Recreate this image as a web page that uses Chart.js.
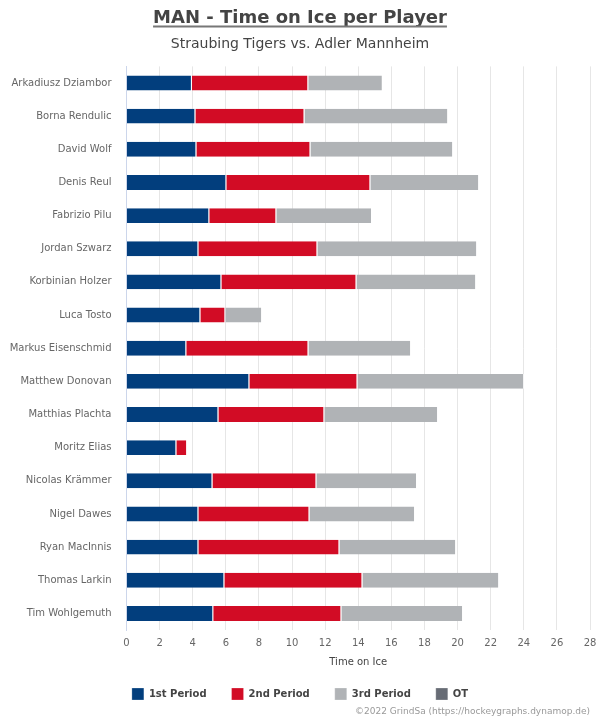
<!DOCTYPE html>
<html>
<head>
<meta charset="utf-8">
<script src="https://cdn.jsdelivr.net/npm/chart.js@4"></script>
<style>
html,body{margin:0;padding:0;background:#fff;}
#wrap{width:600px;height:720px;position:relative;}
</style>
</head>
<body>
<div id="wrap"><canvas id="c" width="600" height="720"></canvas></div>
<script>
const players = ["Arkadiusz Dziambor","Borna Rendulic","David Wolf","Denis Reul","Fabrizio Pilu","Jordan Szwarz","Korbinian Holzer","Luca Tosto","Markus Eisenschmid","Matthew Donovan","Matthias Plachta","Moritz Elias","Nicolas Krämmer","Nigel Dawes","Ryan MacInnis","Thomas Larkin","Tim Wohlgemuth"];
const period1 = [3.95, 4.16, 4.22, 6.03, 5.00, 4.34, 5.73, 4.46, 3.61, 7.42, 5.55, 3.01, 5.19, 4.34, 4.34, 5.91, 5.24];
const period2 = [7.03, 6.59, 6.89, 8.70, 4.05, 7.19, 8.16, 1.51, 7.38, 6.53, 6.40, 0.65, 6.28, 6.71, 8.52, 8.34, 7.74];
const period3 = [4.50, 8.68, 8.62, 6.57, 5.78, 9.65, 7.23, 2.22, 6.20, 10.07, 6.87, 0.00, 6.08, 6.38, 7.05, 8.26, 7.35];
const overtime = [0,0,0,0,0,0,0,0,0,0,0,0,0,0,0,0,0];
const seriesNames = ["1st Period","2nd Period","3rd Period","OT"];
const titleText = "MAN - Time on Ice per Player";
const subtitleText = "Straubing Tigers vs. Adler Mannheim";
const xTitle = "Time on Ice";
const creditText = "©2022 GrindSa (https://hockeygraphs.dynamop.de)";

const colors = ["#023e7d","#d20c25","#b0b3b6","#676c75"];
Chart.defaults.font.family = "'DejaVu Sans', sans-serif";
Chart.defaults.color = "#666";

const extras = {
  id: 'extras',
  afterDraw(chart) {
    const ctx = chart.ctx;
    ctx.save();
    const tb = chart.titleBlock;
    if (tb) {
      ctx.font = "bold 18px 'DejaVu Sans'";
      const w = ctx.measureText(titleText).width;
      const cx = (tb.left + tb.right) / 2;
      const y = tb.bottom - tb.options.padding.bottom - 3;
      ctx.strokeStyle = "#777";
      ctx.lineWidth = 2;
      ctx.beginPath();
      ctx.moveTo(cx - w/2, y);
      ctx.lineTo(cx + w/2, y);
      ctx.stroke();
    }
    ctx.font = "9px 'DejaVu Sans'";
    ctx.fillStyle = "#999";
    ctx.textAlign = "right";
    ctx.textBaseline = "middle";
    ctx.fillText(creditText, 590, 712);
    ctx.restore();
  }
};

const mk = (label, data, i) => ({
  label, data,
  backgroundColor: colors[i],
  borderColor: "#ffffff",
  borderWidth: {top:0, bottom:0, left:0, right:1},
  borderSkipped: false,
  categoryPercentage: 0.9,
  barPercentage: 0.5
});

new Chart(document.getElementById('c'), {
  type: 'bar',
  data: {
    labels: players,
    datasets: [
      mk(seriesNames[0], period1, 0),
      mk(seriesNames[1], period2, 1),
      mk(seriesNames[2], period3, 2),
      mk(seriesNames[3], overtime, 3)
    ]
  },
  options: {
    indexAxis: 'y',
    responsive: false,
    animation: false,
    layout: { padding: { left: 0, right: 0, top: 0, bottom: 10 } },
    scales: {
      x: {
        stacked: true,
        min: 0, max: 28,
        ticks: { stepSize: 2, color: "#666", font: { size: 10 }, padding: 7 },
        grid: { color: "#e6e6e6", drawTicks: false },
        border: { display: false },
        title: { display: true, text: xTitle, color: "#444", font: { size: 10 }, padding: { top: 0, bottom: -5 } },
        afterFit(scale) { scale.paddingRight = 10; scale.paddingLeft = 0; }
      },
      y: {
        stacked: true,
        ticks: { color: "#666", font: { size: 10 }, padding: 15 },
        grid: { display: false, drawTicks: false },
        border: { display: true, color: "#ccd6eb", width: 1 },
        afterFit(scale) { scale.width = 126.5; }
      }
    },
    plugins: {
      title: { display: true, text: titleText, color: "#444", font: { size: 18, weight: 'bold' }, padding: { top: 8, bottom: 6 } },
      subtitle: { display: true, text: subtitleText, color: "#444", font: { size: 14 }, padding: { top: 0, bottom: 14 } },
      legend: {
        position: 'bottom',
        labels: { boxWidth: 12, boxHeight: 12, color: "#444", font: { size: 10, weight: 'bold' }, padding: 25 }
      },
      tooltip: { enabled: false }
    }
  },
  plugins: [extras]
});
</script>
</body>
</html>
